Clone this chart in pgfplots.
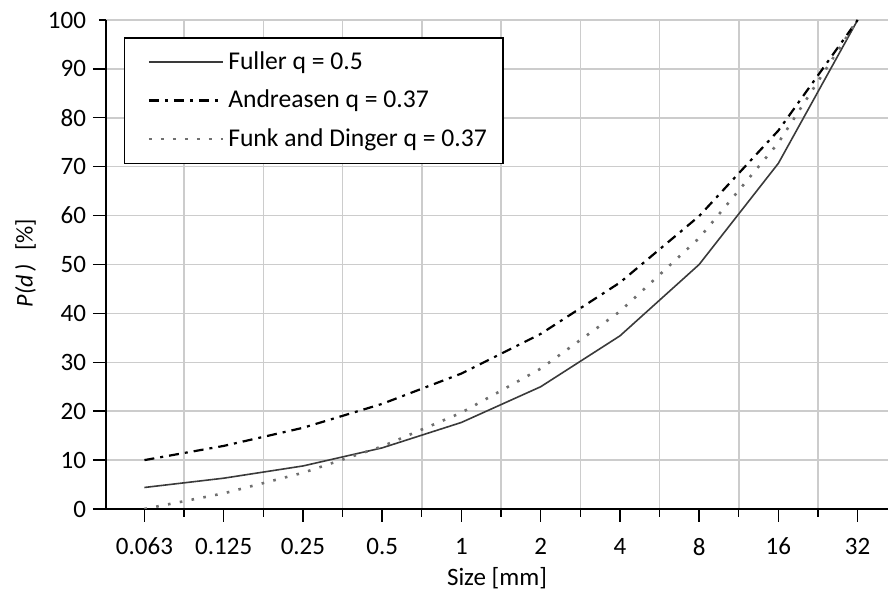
\documentclass[border=0pt]{standalone}
\usepackage{fontspec}
\setmainfont{Carlito}
\usepackage{pgfplots}
\pgfplotsset{compat=1.18}
\definecolor{gridgray}{HTML}{CCCCCC}
\definecolor{fullergray}{HTML}{3A3A3A}
\definecolor{funkgray}{HTML}{707070}
\begin{document}
\begin{tikzpicture}
\begin{axis}[
  scale only axis,
  width=391pt, height=244.5pt,
  xmin=-0.485, xmax=9.383, ymin=0, ymax=100,
  axis x line*=bottom, axis y line*=left,
  axis line style={black, line width=0.7pt, -},
  xtick={0,...,9},
  xticklabels={0.063,0.125,0.25,0.5,1,2,4,8,16,32},
  minor xtick={0.5,1.5,...,8.5},
  ytick={0,10,...,100},
  xmajorgrids=false, xminorgrids=true, ymajorgrids=true,
  grid style={gridgray, line width=0.75pt},
  tick align=outside,
  major tick length=6.5pt, minor tick length=4pt,
  tick style={black, line width=0.7pt},
  ytick style={shorten <=3pt},
  /pgf/number format/assume math mode=true,
  tick label style={font=\fontsize{12.5}{14}\selectfont},
  xticklabel style={yshift=-4.5pt},
  xlabel={Size [mm]},
  ylabel={\textit{P(d\,)}\hspace{0.55em}[\%]},
  xlabel style={font=\fontsize{12.5}{14}\selectfont, at={(axis description cs:0.5,-0.141)}, anchor=center},
  ylabel style={font=\fontsize{12}{14}\selectfont, at={(axis description cs:-0.103,0.503)}, anchor=center},
  legend style={at={(0.023,0.965)}, anchor=north west, draw=black, line width=0.7pt,
    font=\fontsize{12.8}{14}\selectfont, row sep=4.8pt, inner xsep=6pt, inner ysep=5pt,
    cells={anchor=west}},
  legend image code/.code={\path (0pt,0pt); \draw[#1] (5.5pt,0pt) -- (42.5pt,0pt);},
]
\addplot[fullergray, line width=0.8pt] coordinates {
  (0,4.4) (1,6.3) (2,8.8) (3,12.5) (4,17.7) (5,25.0) (6,35.4) (7,50.0) (8,70.7) (9,100)
};
\addlegendentry{Fuller q = 0.5}
\addplot[black, line width=1.1pt, dash pattern=on 5pt off 3pt on 1.5pt off 3pt] coordinates {
  (0,10.0) (1,12.9) (2,16.6) (3,21.5) (4,27.7) (5,35.8) (6,46.3) (7,59.9) (8,77.4) (9,100)
};
\addlegendentry{Andreasen q = 0.37}
\addplot[funkgray, line width=1.3pt, dash pattern=on 1.3pt off 4.7pt] coordinates {
  (0,0.0) (1,3.2) (2,7.4) (3,12.8) (4,19.7) (5,28.7) (6,40.4) (7,55.4) (8,74.9) (9,100)
};
\addlegendentry{Funk and Dinger q = 0.37}
\end{axis}
\pgfresetboundingbox
\path[use as bounding box] (current axis.south west) ++(-53pt,-42pt) rectangle ([yshift=10pt]current axis.north east);
\end{tikzpicture}
\end{document}
